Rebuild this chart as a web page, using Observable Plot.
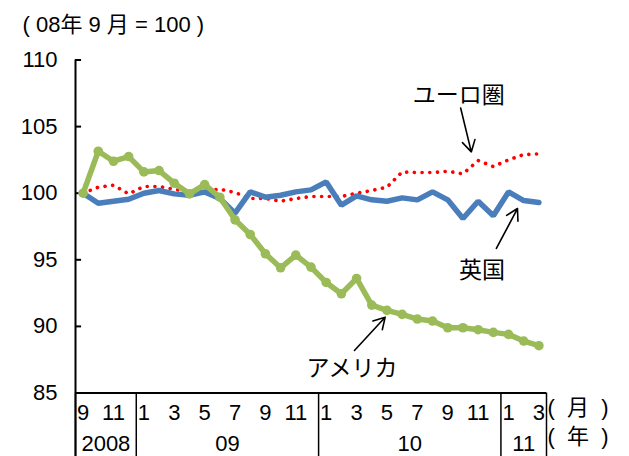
<!DOCTYPE html>
<html>
<head>
<meta charset="utf-8">
<script src="https://cdn.jsdelivr.net/npm/d3@7"></script>
<script src="https://cdn.jsdelivr.net/npm/@observablehq/plot@0.6"></script>
<style>
  html, body { margin: 0; padding: 0; background: #fff; }
  #chart svg { display: block; }
</style>
</head>
<body>
<div id="chart"></div>
<script>
// Monthly index, Sep 2008 = 100, Sep 2008 .. Mar 2011 (31 months)
const euro = [100, 100.45, 100.6, 99.95, 100.5, 100.5, 100.3, 100.1, 100.2, 100.3, 100.05,
  99.6, 99.6, 99.4, 99.6, 99.75, 99.75, 99.75, 100.0, 100.2, 100.45, 101.6, 101.55, 101.55,
  101.65, 101.45, 102.45, 102.0, 102.5, 102.9, 102.95];
const uk = [100, 99.25, 99.4, 99.55, 100.0, 100.2, 99.95, 99.85, 100.1, 99.6, 98.5,
  100.1, 99.7, 99.85, 100.1, 100.25, 100.85, 99.1, 99.8, 99.5, 99.4, 99.65, 99.5, 100.1,
  99.5, 98.1, 99.4, 98.3, 100.1, 99.45, 99.3];
const us = [100, 103.15, 102.4, 102.75, 101.6, 101.7, 100.75, 99.95, 100.65, 99.7, 98.0,
  96.9, 95.45, 94.4, 95.35, 94.45, 93.3, 92.45, 93.6, 91.6, 91.2, 90.9, 90.55, 90.4,
  89.9, 89.9, 89.75, 89.55, 89.4, 88.9, 88.55];

// Axis labels
const yTicks = [85, 90, 95, 100, 105, 110];
const monthLabels = ["9", "11", "1", "3", "5", "7", "9", "11", "1", "3", "5", "7", "9", "11", "1", "3"];
const yearLabels = ["2008", "09", "10", "11"];
const yearFirstMonth = [0, 4, 16, 28];   // index of first month of each year
const yearLastMonth = [3, 15, 27, 30];   // index of last month of each year

const rows = (vals) => vals.map((v, i) => ({i, v}));
const monthTicks = monthLabels.map((t, k) => ({i: 2 * k, t}));
const years = yearLabels.map((t, k) => ({t, a: yearFirstMonth[k], b: yearLastMonth[k]}));
const separators = [...yearFirstMonth.map(a => a - 0.5), yearLastMonth[yearLastMonth.length - 1] + 0.5];
const bottom = 80.2; // extends separators down to the bottom edge

const font = "'Liberation Sans', 'Noto Sans CJK JP', Arial, sans-serif";
const jp = "'Noto Sans CJK JP', sans-serif";
const sp = "\u00A0\u00A0";
const sp1 = "\u00A0";

const chart = Plot.plot({
  width: 629,
  height: 456,
  marginLeft: 75,
  marginRight: 83,
  marginTop: 59.5,
  marginBottom: 63.5,
  x: {domain: [-0.5, 30.5], axis: null},
  y: {domain: [85, 110], axis: null},
  style: {fontFamily: font, fontSize: "22px", color: "#000", background: "#fff"},
  marks: [
    // axes frame
    Plot.ruleX([-0.5], {y1: bottom, y2: 110, stroke: "#000", strokeWidth: 2}),
    Plot.ruleY([85], {x1: -0.5, x2: 30.5, stroke: "#000", strokeWidth: 2}),
    Plot.ruleX(separators, {y1: 85, y2: bottom, stroke: "#000", strokeWidth: 1.5}),
    Plot.ruleY(yTicks, {x1: -0.5, x2: -0.1, stroke: "#000", strokeWidth: 2}),
    Plot.text(yTicks, {x: -0.5, y: d => d, text: d => String(d), textAnchor: "end", dx: -18, fontSize: 22}),
    Plot.text(monthTicks, {x: "i", y: 85, text: "t", dy: 19.5, fontSize: 22}),
    Plot.text(years, {x: d => (d.a + d.b) / 2, y: 85, text: "t", dy: 50.5, fontSize: 22}),
    Plot.text([`(${sp}月${sp})`], {frameAnchor: "bottom-right", textAnchor: "start", dx: 1, dy: 21.5, fontSize: 22}),
    Plot.text([`(${sp}年${sp})`], {frameAnchor: "bottom-right", textAnchor: "start", dx: 1, dy: 51, fontSize: 22}),
    Plot.text([`(${sp1}08年 9 月 = 100${sp1})`], {frameAnchor: "top-left", textAnchor: "start", dx: -53, dy: -44, fontSize: 22}),

    // series
    Plot.line(rows(euro), {x: "i", y: "v", stroke: "#FF0000", strokeWidth: 3.6,
      strokeDasharray: "0.1 7.6", strokeLinecap: "round"}),
    Plot.line(rows(uk), {x: "i", y: "v", stroke: "#4A7EBB", strokeWidth: 5.5, strokeLinejoin: "miter"}),
    Plot.line(rows(us), {x: "i", y: "v", stroke: "#9BBB59", strokeWidth: 5.5}),
    Plot.dot(rows(us), {x: "i", y: "v", r: 4.8, fill: "#9BBB59"}),

    // series annotations
    Plot.text(["ユーロ圏"], {x: 24.73, y: 107.33, fontFamily: jp, fontSize: 23}),
    Plot.arrow([0], {x1: 24.85, y1: 106.4, x2: 25.55, y2: 103.1, stroke: "#000", strokeWidth: 1.6, headLength: 12}),
    Plot.text(["英国"], {x: 26.25, y: 94.2, fontFamily: jp, fontSize: 23}),
    Plot.arrow([0], {x1: 27.2, y1: 95.85, x2: 28.59, y2: 98.85, stroke: "#000", strokeWidth: 1.6, headLength: 12}),
    Plot.text(["アメリカ"], {x: 17.7, y: 86.84, fontFamily: jp, fontSize: 23}),
    Plot.arrow([0], {x1: 17.86, y1: 88.19, x2: 19.88, y2: 90.69, stroke: "#000", strokeWidth: 1.6, headLength: 12})
  ]
});

document.getElementById("chart").append(chart);
</script>
</body>
</html>
